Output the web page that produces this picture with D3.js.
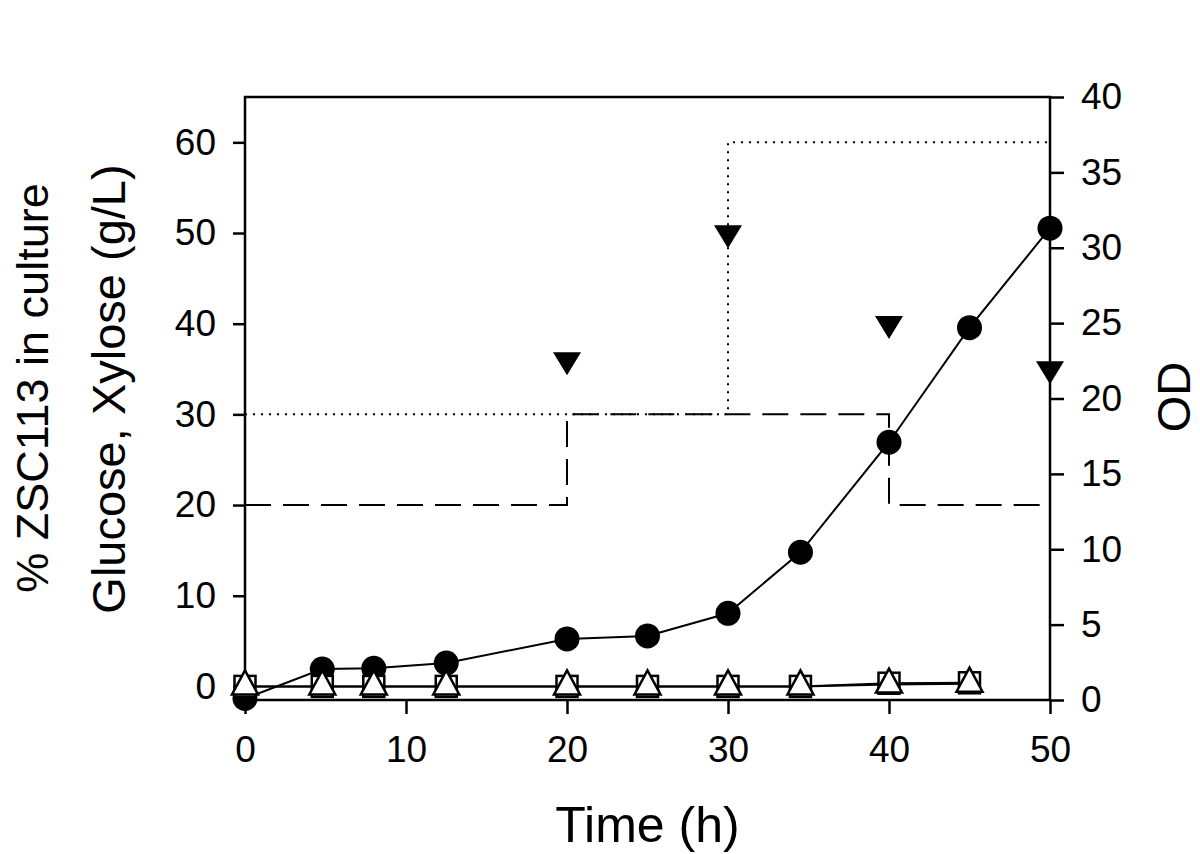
<!DOCTYPE html>
<html>
<head>
<meta charset="utf-8">
<script src="https://cdn.jsdelivr.net/npm/d3@7"></script>
<style>
  html, body { margin: 0; padding: 0; background: #fff; }
  svg { display: block; font-family: Arial, "Liberation Sans", sans-serif; }
</style>
</head>
<body>
<svg id="chart" width="1200" height="854"></svg>
<script>
// ---- Data ----
const odTime = [0, 4.8, 8, 12.5, 20, 25, 30, 34.5, 40, 45, 50];
const odValues = [0.1, 2.05, 2.1, 2.45, 4.05, 4.25, 5.75, 9.8, 17.1, 24.7, 31.3];

const zscTime = [20, 30, 40, 50];
const zscValues = [36, 50, 40, 35];

const sugarTime = [0, 4.8, 8, 12.5, 20, 25, 30, 34.5, 40, 45];
const glucoseValues = [0, 0, 0, 0, 0, 0, 0, 0, 0.35, 0.4];
const xyloseValues = [0, 0, 0, 0, 0, 0, 0, 0, 0.2, 0.3];

// feed concentration steps (left axis)
const dashedStepTime = [0, 20, 20, 40, 40, 50];
const dashedStepValues = [20, 20, 30, 30, 20, 20];
const dottedStepTime = [0, 30, 30, 50];
const dottedStepValues = [30, 30, 60, 60];

const xTicks = [0, 10, 20, 30, 40, 50];
const yLeftTicks = [0, 10, 20, 30, 40, 50, 60];
const yRightTicks = [0, 5, 10, 15, 20, 25, 30, 35, 40];

// ---- Layout ----
const L = 245, R = 1050, T = 97, B = 700;
const svg = d3.select("#chart");

const x = d3.scaleLinear().domain([0, 50]).range([L, R]);
const yL = d3.scaleLinear().domain([-1.5, 65]).range([B, T]);
const yR = d3.scaleLinear().domain([0, 40]).range([B, T]);

const tickFont = 37;

// Axes
const gx = svg.append("g").attr("transform", `translate(0,${B})`)
  .call(d3.axisBottom(x).tickValues(xTicks).tickSize(14).tickSizeOuter(0).tickPadding(22).tickFormat(d3.format("d")));
const gyl = svg.append("g").attr("transform", `translate(${L},0)`)
  .call(d3.axisLeft(yL).tickValues(yLeftTicks).tickSize(12).tickSizeOuter(0).tickPadding(17).tickFormat(d3.format("d")));
const gyr = svg.append("g").attr("transform", `translate(${R},0)`)
  .call(d3.axisRight(yR).tickValues(yRightTicks).tickSize(14).tickSizeOuter(0).tickPadding(17).tickFormat(d3.format("d")));

[gx, gyl, gyr].forEach(g => {
  g.attr("font-size", tickFont).attr("font-family", "Arial, 'Liberation Sans', sans-serif");
  g.select(".domain").remove();
  g.selectAll(".tick line").attr("stroke", "#000").attr("stroke-width", 2.5);
  g.selectAll(".tick text").attr("fill", "#000").attr("font-size", tickFont);
});

// Frame
svg.append("rect").attr("x", L).attr("y", T).attr("width", R - L).attr("height", B - T)
  .attr("fill", "none").attr("stroke", "#000").attr("stroke-width", 2.5);

// Step lines
const stepLineL = (ts, vs) => d3.line().x((d, i) => x(ts[i])).y((d, i) => yL(vs[i]))(ts);
svg.append("path").attr("d", stepLineL(dashedStepTime, dashedStepValues))
  .attr("fill", "none").attr("stroke", "#000").attr("stroke-width", 2)
  .attr("stroke-dasharray", "26,12");
svg.append("path").attr("d", stepLineL(dottedStepTime, dottedStepValues))
  .attr("fill", "none").attr("stroke", "#000").attr("stroke-width", 2)
  .attr("stroke-dasharray", "2,6");

// OD line + circles (right axis)
const odLine = d3.line().x((d, i) => x(odTime[i])).y((d, i) => yR(odValues[i]));
svg.append("path").attr("d", odLine(odTime)).attr("fill", "none").attr("stroke", "#000").attr("stroke-width", 2);
svg.append("g").selectAll("circle").data(odTime).join("circle")
  .attr("cx", (d) => x(d)).attr("cy", (d, i) => yR(odValues[i])).attr("r", 12.5).attr("fill", "#000");

// Glucose & xylose lines
const gluLine = d3.line().x((d, i) => x(sugarTime[i])).y((d, i) => yL(glucoseValues[i]));
const xylLine = d3.line().x((d, i) => x(sugarTime[i])).y((d, i) => yL(xyloseValues[i]));
svg.append("path").attr("d", gluLine(sugarTime)).attr("fill", "none").attr("stroke", "#000").attr("stroke-width", 2);
svg.append("path").attr("d", xylLine(sugarTime)).attr("fill", "none").attr("stroke", "#000").attr("stroke-width", 2);

// squares (glucose)
const sq = 21;
svg.append("g").selectAll("rect").data(sugarTime).join("rect")
  .attr("x", (d) => x(d) - sq / 2).attr("y", (d, i) => yL(glucoseValues[i]) - sq / 2)
  .attr("width", sq).attr("height", sq).attr("fill", "#fff").attr("stroke", "#000").attr("stroke-width", 2.5);

// open triangles (xylose)
const tw = 26, th = 24;
svg.append("g").selectAll("path").data(sugarTime).join("path")
  .attr("transform", (d, i) => `translate(${x(d)},${yL(xyloseValues[i])})`)
  .attr("d", `M0,${-2 * th / 3}L${tw / 2},${th / 3}L${-tw / 2},${th / 3}Z`)
  .attr("fill", "#fff").attr("stroke", "#000").attr("stroke-width", 2.5).attr("stroke-linejoin", "miter");

// filled inverted triangles (% ZSC113)
const fw = 28, fh = 23;
svg.append("g").selectAll("path").data(zscTime).join("path")
  .attr("transform", (d, i) => `translate(${x(d)},${yL(zscValues[i])})`)
  .attr("d", `M${-fw / 2},${-fh / 3}L${fw / 2},${-fh / 3}L0,${2 * fh / 3}Z`)
  .attr("fill", "#000");

// Titles
svg.append("text").attr("x", (L + R) / 2).attr("y", 842).attr("text-anchor", "middle")
  .attr("font-size", 50).attr("fill", "#000").text("Time (h)");
svg.append("text").attr("transform", "translate(48,388) rotate(-90)").attr("text-anchor", "middle")
  .attr("font-size", 45).attr("fill", "#000").text("% ZSC113 in culture");
svg.append("text").attr("transform", "translate(125,389) rotate(-90)").attr("text-anchor", "middle")
  .attr("font-size", 47).attr("fill", "#000").text("Glucose, Xylose (g/L)");
svg.append("text").attr("transform", "translate(1190,397) rotate(-90)").attr("text-anchor", "middle")
  .attr("font-size", 47).attr("fill", "#000").text("OD");
</script>
</body>
</html>
